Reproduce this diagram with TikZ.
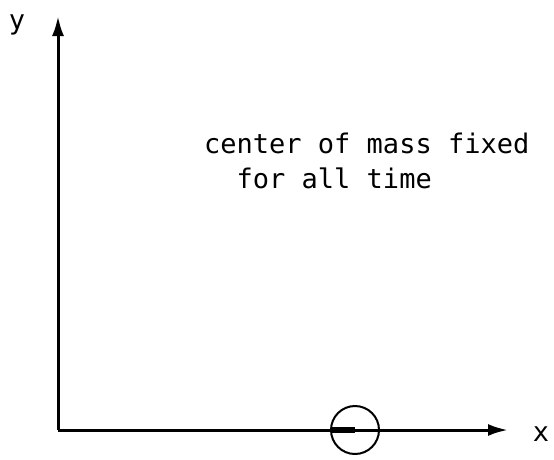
\documentclass[tikz,border=0pt]{standalone}
\usepackage{fontspec}
\setmonofont{DejaVu Sans Mono}
\usetikzlibrary{arrows.meta}

\begin{document}
\begin{tikzpicture}[x=1pt,y=-1pt,
    axis/.style={line width=3pt,-{Latex[length=20pt,width=12pt]}},
    lbl/.style={font=\ttfamily\fontsize{27}{35}\selectfont,inner sep=0pt}]
    \useasboundingbox (0,0) rectangle (554,459);
    % Axes
    \coordinate (O) at (58,430);
    \coordinate (xend) at (508,430);
    \coordinate (yend) at (58,16);
    \draw[axis] (O) -- (xend);
    \draw[axis] (O) -- (yend);
    \node[lbl,anchor=base] (xlab) at (541,441) {x};
    \node[lbl,anchor=base] (ylab) at (17,29) {y};
    % Center of mass
    \node[draw,circle,line width=2pt,minimum size=48pt,inner sep=0pt] (cm) at (355,430) {};
    \coordinate (bar) at (332,430);
    \draw[line width=5.5pt] (bar) -- (cm.center);
    \node[lbl,anchor=north west,align=left] (note) at (204,133)
      {center of mass fixed\\\phantom{ce}for all time};
\end{tikzpicture}
\end{document}
